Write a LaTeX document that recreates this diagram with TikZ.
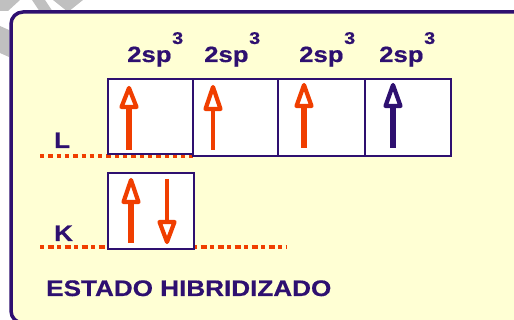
\documentclass[tikz,border=0pt]{standalone}
\usepackage{fontspec}
\usepackage{graphicx}
\setmainfont{Liberation Sans}[BoldFeatures={FakeBold=0.6}]
\definecolor{orng}{RGB}{240,62,0}
\definecolor{purp}{RGB}{46,16,112}
\definecolor{bgy}{RGB}{255,255,212}
\definecolor{stripe}{RGB}{192,192,192}
\newcommand{\orbtxt}{\scalebox{1.17}[1]{\fontsize{22}{24}\selectfont\bfseries 2sp\kern0.5pt\raisebox{18pt}{\fontsize{17}{20}\selectfont 3}}}
\tikzset{
  orb/.style={draw=purp, line width=2pt, fill=white, inner sep=0pt},
  lbl/.style={text=purp, inner sep=0pt, anchor=base west},
  shaft/.style={line width=#1, line cap=butt},
  head/.style={line width=4.2pt, line join=round, fill=white},
  lvlL/.style={orng, line width=4pt, dash pattern=on 4.3pt off 4pt},
  lvlK/.style={orng, line width=4pt, dash pattern=on 4pt off 3.5pt on 6pt off 3.5pt}
}
\begin{document}
\begin{tikzpicture}[x=1pt,y=-1pt]
\useasboundingbox (0,0) rectangle (514,320);
% grey stripes behind the frame
\fill[stripe] (0,0) -- (20,0) -- (8,11) -- (0,11) -- cycle;
\fill[stripe] (32,0) -- (45,0) -- (53,12) -- (40,12) -- cycle;
\fill[stripe] (53,0) -- (83,0) -- (68,12) -- cycle;
\fill[stripe] (0,26) -- (9,30) -- (9,57) -- (0,53) -- cycle;
% frame
\draw[purp, line width=3.5pt, fill=bgy, rounded corners=12pt] (11,12) rectangle (545,323);
% energy level lines
\coordinate (Ls) at (40,156); \coordinate (Le) at (193,156);
\coordinate (Ks) at (40,247); \coordinate (Ke) at (287,247);
\draw[lvlL] (Ls) -- (Le);
\draw[lvlK] (Ks) -- (Ke);
% orbital boxes
\node[orb, minimum width=85pt, minimum height=75pt] (b1) at (150.5,116.5) {};
\node[orb, minimum width=85pt, minimum height=77pt] (b2) at (235.5,117.5) {};
\node[orb, minimum width=87pt, minimum height=77pt] (b3) at (321.5,117.5) {};
\node[orb, minimum width=86pt, minimum height=77pt] (b4) at (408,117.5) {};
\node[orb, minimum width=86pt, minimum height=76pt] (b5) at (151,211) {};
% arrows (up): x, bottom, base, tip
\draw[orng, shaft=6pt] (129,150) -- (129,107);
\draw[orng, head] (121.5,107) -- (129,88) -- (136.5,107) -- cycle;
\draw[orng, shaft=4.3pt] (213,150) -- (213,109);
\draw[orng, head] (205.5,109) -- (213,87) -- (220.5,109) -- cycle;
\draw[orng, shaft=5.7pt] (304,148) -- (304,106);
\draw[orng, head] (296.5,106) -- (304,85) -- (311.5,106) -- cycle;
\draw[purp, shaft=6pt] (393,148) -- (393,106);
\draw[purp, head] (385.5,106) -- (393,85) -- (400.5,106) -- cycle;
\draw[orng, shaft=6pt] (131,243) -- (131,202);
\draw[orng, head] (123.5,202) -- (131,180) -- (138.5,202) -- cycle;
% arrow (down)
\draw[orng, shaft=4pt] (167,179) -- (167,222);
\draw[orng, head] (159.5,222) -- (167,242) -- (174.5,222) -- cycle;
% labels
\node[lbl] (t1) at (127,62) {\orbtxt};
\node[lbl] (t2) at (204,62) {\orbtxt};
\node[lbl] (t3) at (299,62) {\orbtxt};
\node[lbl] (t4) at (379,62) {\orbtxt};
\node[lbl] (tL) at (54,148) {\scalebox{1.15}[1]{\fontsize{22.5}{24}\selectfont\bfseries L}};
\node[lbl] (tK) at (54,241) {\scalebox{1.15}[1]{\fontsize{22.5}{24}\selectfont\bfseries K}};
\node[lbl] (te) at (46,296) {\scalebox{1.16}[1]{\fontsize{22.5}{25}\selectfont\bfseries ESTADO HIBRIDIZADO}};
\end{tikzpicture}
\end{document}
